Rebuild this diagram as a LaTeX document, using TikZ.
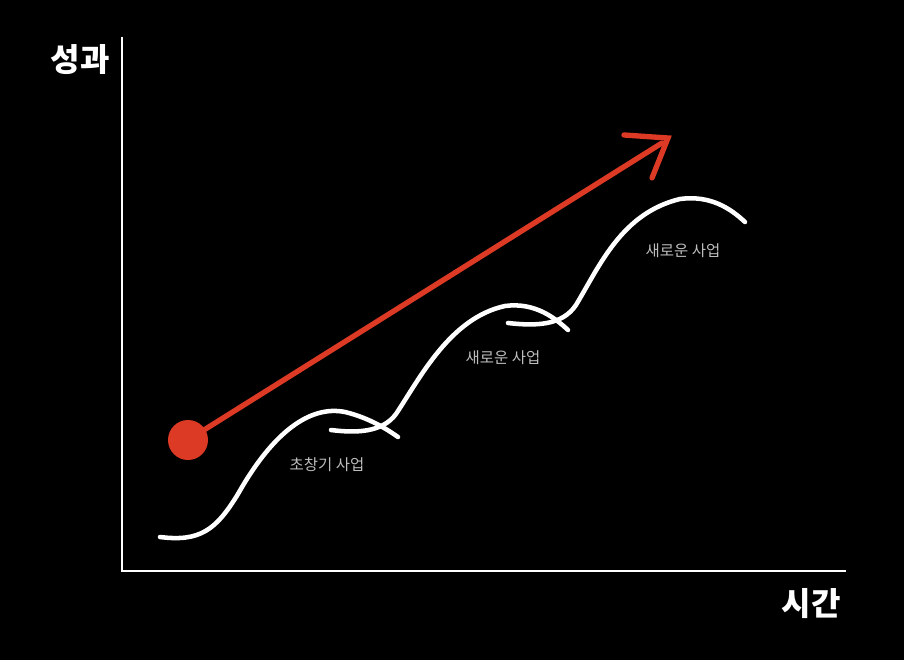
\documentclass[tikz,border=0pt]{standalone}
\usepackage{fontspec}
\setmainfont{Noto Sans CJK KR}
\definecolor{chalkred}{HTML}{DD3A26}
\definecolor{labelgray}{HTML}{BDBDBD}
\begin{document}
\begin{tikzpicture}[x=0.75pt,y=-0.75pt,
  axisline/.style={draw=white,line width=2.2pt},
  chalk/.style={draw=white,line width=3.4pt,line cap=round},
  redchalk/.style={draw=chalkred,line width=4pt,line cap=round},
  axislabel/.style={text=white,font=\fontsize{24pt}{28pt}\selectfont\bfseries},
  smalllabel/.style={text=labelgray,font=\fontsize{11.6pt}{14pt}\selectfont}]
\fill[black] (0,0) rectangle (904,660);
\useasboundingbox (0,0) rectangle (904,660);
% axes
\coordinate (top) at (122,37);
\coordinate (origin) at (122,571);
\coordinate (right) at (846,571);
\draw[axisline] (top) -- (origin) -- (right);
\node[axislabel] (perf) at (80,60) {성과};
\node[axislabel] (time) at (811,604) {시간};
% curves
\coordinate (c1s) at (160,537);
\coordinate (c1e) at (398,437);
\draw[chalk] (c1s) .. controls (200,542) and (216,530) .. (238,494)
  .. controls (273,432) and (310,405) .. (345,412)
  .. controls (370,418) and (388,430) .. (c1e);
\coordinate (c2s) at (331,430);
\coordinate (c2e) at (568,330);
\draw[chalk] (c2s) .. controls (355,433) and (382,433) .. (396,414)
  .. controls (420,378) and (450,318) .. (505,306)
  .. controls (535,302) and (555,318) .. (c2e);
\coordinate (c3s) at (508,323);
\coordinate (c3e) at (745,222);
\draw[chalk] (c3s) .. controls (535,326) and (562,326) .. (576,305)
  .. controls (600,265) and (622,213) .. (680,199)
  .. controls (710,195) and (730,208) .. (c3e);
% labels
\node[smalllabel] (l1) at (327,465) {초창기 사업};
\node[smalllabel] (l2) at (503,358) {새로운 사업};
\node[smalllabel] (l3) at (683,251) {새로운 사업};
% red arrow
\node[circle,fill=chalkred,minimum size=30pt,inner sep=0pt] (dot) at (188,440) {};
\coordinate (tip) at (668,138);
\coordinate (barl) at (624,135);
\coordinate (barr) at (652,178);
\draw[redchalk] (dot.center) -- (662,143);
\draw[redchalk] (barl) -- (tip) -- (barr);
\end{tikzpicture}
\end{document}
